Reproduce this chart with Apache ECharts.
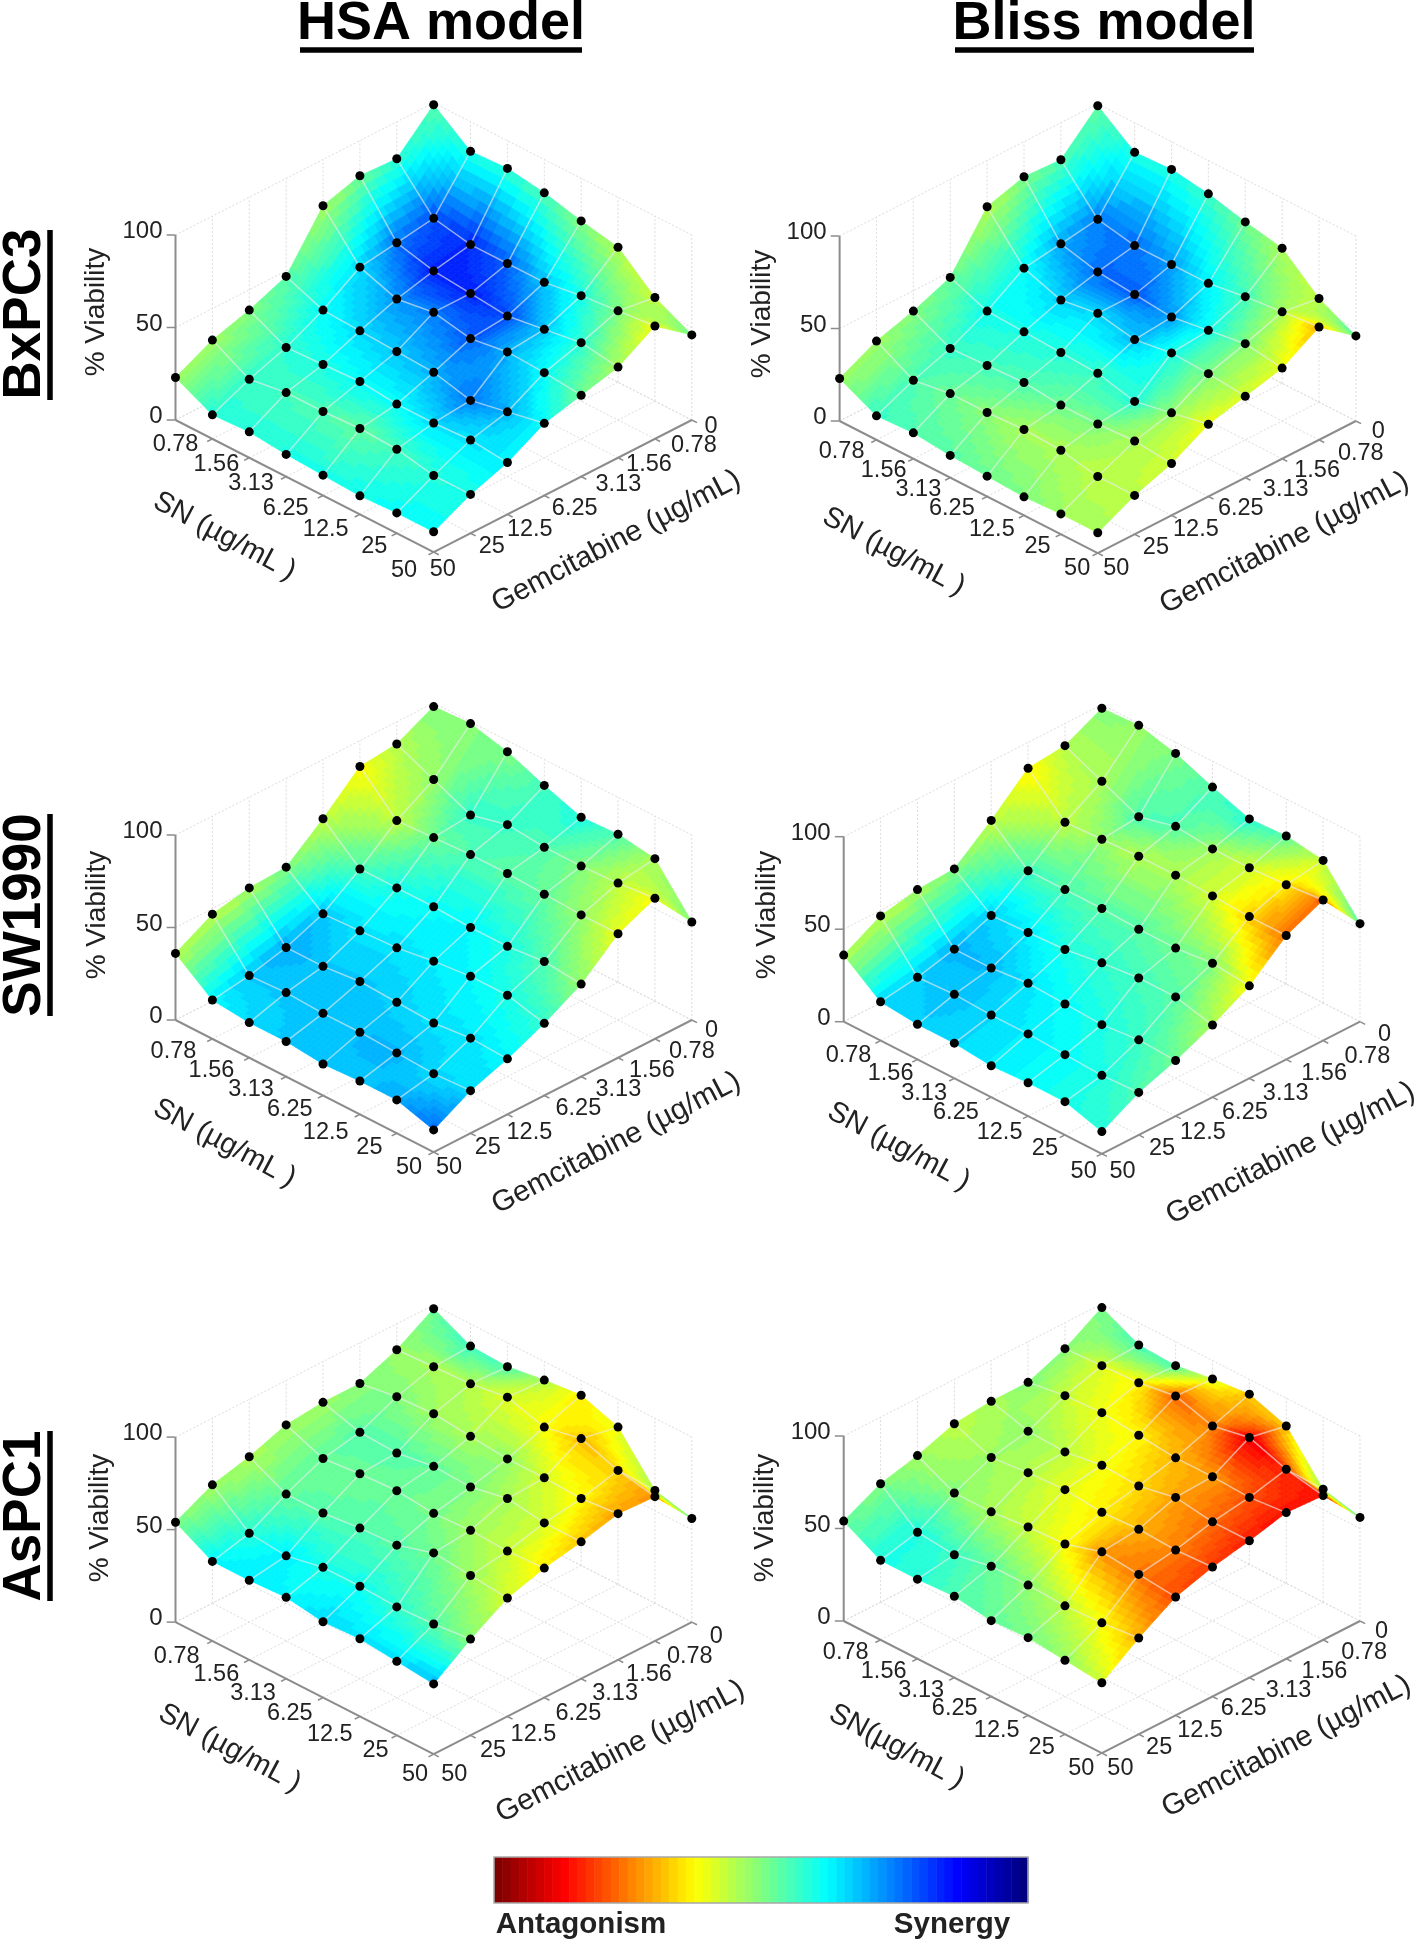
<!DOCTYPE html>
<html><head><meta charset="utf-8">
<style>html,body{margin:0;padding:0;background:#fff}#c{width:1418px;height:1944px}</style>
<script src="https://cdn.jsdelivr.net/npm/echarts@6/dist/echarts.min.js"></script>
</head><body><div id="c"></div>
<script>
// rows: Gemcitabine index 0..7 (0, 0.78 ... 50); columns: SN index 0..7 (0, 0.78 ... 50)
const viabilityBxPC3 = [
 [99,84,85,82,77,73,56,46],
 [80,58,54,54,54,57,59,61],
 [81,55,50,48,46,49,52,49],
 [75,52,45,48,44,47,46,44],
 [47,39,38,37,36,31,35,39],
 [39,29,30,31,29,29,30,28],
 [33,22,25,25,26,25,21,21],
 [23,13,14,12,11,10,11,11]];
const viabilitySW1990 = [
 [98,99,94,86,79,80,77,53],
 [88,79,70,75,73,73,74,76],
 [86,67,68,69,69,68,67,67],
 [68,51,51,51,50,50,52,50],
 [52,37,38,39,42,44,44,39],
 [51,29,29,31,30,29,31,30],
 [47,24,25,24,24,23,22,23],
 [36,21,19,19,17,18,18,12]];
const viabilityAsPC1 = [
 [98,88,87,90,92,85,61,56],
 [86,87,88,91,85,89,82,78],
 [78,81,82,80,78,78,77,79],
 [78,72,71,74,73,77,74,74],
 [76,68,70,71,69,70,69,70],
 [69,59,59,61,62,68,66,64],
 [64,48,46,50,50,49,50,52],
 [54,43,43,44,41,42,40,38]];
// colour position on the bar: 0 = strongest antagonism, 100 = strongest synergy
const synergyBxPC3HSA = [
 [55,60,58,55,50,45,43,52],
 [58,80,84,78,68,60,50,39],
 [52,76,85,85,80,68,58,46],
 [46,66,73,75,79,70,62,52],
 [54,62,66,68,70,76,70,62],
 [50,58,60,62,62,66,65,64],
 [47,57,56,55,53,56,59,60],
 [47,59,59,60,60,61,62,62]];
const synergyBxPC3Bliss = [
 [54,60,60,57,52,46,44,55],
 [55,75,77,72,63,56,46,30],
 [50,71,77,79,72,61,50,40],
 [45,62,67,66,69,60,50,42],
 [52,61,60,59,57,59,48,39],
 [50,57,56,55,52,50,46,42],
 [47,55,52,49,46,46,44,44],
 [47,57,55,54,52,50,47,46]];
const synergySW1990HSA = [
 [50,50,50,56,60,55,46,50],
 [45,48,58,57,55,50,44,38],
 [38,44,52,55,54,53,48,40],
 [44,56,60,62,63,60,55,48],
 [50,68,65,65,64,63,60,58],
 [46,71,68,68,67,65,65,63],
 [44,68,68,68,69,70,66,66],
 [45,63,66,68,69,68,71,77]];
const synergySW1990Bliss = [
 [50,48,50,55,59,54,42,55],
 [45,46,55,55,47,42,36,22],
 [37,44,48,45,46,42,33,24],
 [44,56,55,54,54,52,50,38],
 [50,67,64,60,58,56,54,46],
 [46,70,69,65,62,60,57,52],
 [44,67,69,66,64,62,60,55],
 [45,66,67,66,64,62,60,59]];
const synergyAsPC1HSA = [
 [52,57,55,46,36,40,46,52],
 [48,46,45,41,38,31,33,27],
 [50,50,47,46,48,42,37,28],
 [47,54,55,53,50,46,42,32],
 [47,53,52,52,51,47,43,36],
 [46,53,54,55,54,52,47,42],
 [47,59,64,60,61,58,54,49],
 [50,63,64,63,66,65,66,69]];
const synergyAsPC1Bliss = [
 [50,56,55,42,32,33,48,55],
 [49,41,37,22,26,10,16,14],
 [50,43,39,37,30,28,20,14],
 [46,48,44,39,34,28,23,15],
 [44,47,45,40,36,30,25,18],
 [47,49,46,43,38,27,24,20],
 [50,60,57,53,49,44,38,30],
 [52,60,59,55,53,51,48,42]];

const doseIndex = [0,1,2,3,4,5,6,7];
const snTickLabels = ['0.78','1.56','3.13','6.25','12.5','25','50'];
const gemTickLabels = ['0','0.78','1.56','3.13','6.25','12.5','25','50'];
const viabilityTicks = [0,50,100];
const columnTitles = ['HSA model','Bliss model'];
const rowTitles = ['BxPC3','SW1990','AsPC1'];

// ---- layout (pixels) ----
const PANELS = [
 {v:viabilityBxPC3, c:synergyBxPC3HSA,  lx:175.5, y0:419.9, ox:100, oy:80,  sn:'SN (µg/mL )',
  snT:[[185,1060],[285,1118],[370,1172],[455,1245],[553,1305],[672,1355],[745,1425]],
  gT:[[1497,1005],[1455,1062],[1345,1118],[1270,1175],[1163,1245],[1053,1305],[960,1355],[840,1423]],
  snC:[305,1325], gC:[1265,1340], vC:[96,312]},
 {v:viabilityBxPC3, c:synergyBxPC3Bliss, lx:839.6, y0:420.9, ox:760, oy:80, sn:'SN (µg/mL )',
  snT:[[200,1080],[303,1135],[388,1190],[470,1245],[568,1305],[680,1355],[777,1420]],
  gT:[[1515,1020],[1472,1085],[1365,1135],[1288,1190],[1178,1245],[1068,1305],[970,1357],[873,1420]],
  snC:[328,1370], gC:[1285,1345], vC:[762,314]},
 {v:viabilitySW1990, c:synergySW1990HSA, lx:175.5, y0:1019.9, ox:100, oy:680, sn:'SN (µg/mL )',
  snT:[[180,1078],[273,1133],[370,1190],[465,1247],[553,1315],[660,1358],[757,1417]],
  gT:[[1498,1018],[1450,1080],[1352,1135],[1270,1190],[1172,1245],[1052,1315],[950,1358],[855,1417]],
  snC:[305,1345], gC:[1265,1345], vC:[97,915]},
 {v:viabilitySW1990, c:synergySW1990Bliss, lx:843.7, y0:1021.6, ox:760, oy:680, sn:'SN (µg/mL )',
  snT:[[217,1090],[320,1143],[402,1200],[480,1257],[587,1315],[698,1362],[793,1428]],
  gT:[[1530,1030],[1488,1092],[1382,1143],[1288,1200],[1188,1257],[1085,1315],[985,1362],[888,1428]],
  snC:[340,1355], gC:[1300,1375], vC:[767,915]},
 {v:viabilityAsPC1, c:synergyAsPC1HSA, lx:175.5, y0:1622, ox:100, oy:1280, sn:'SN (µg/mL )',
  snT:[[188,1092],[285,1145],[375,1202],[465,1258],[563,1320],[675,1367],[772,1437]],
  gT:[[1510,1035],[1445,1092],[1345,1145],[1262,1202],[1172,1258],[1062,1320],[963,1367],[868,1437]],
  snC:[318,1360], gC:[1275,1370], vC:[100,1518]},
 {v:viabilityAsPC1, c:synergyAsPC1Bliss, lx:843.7, y0:1620.9, ox:760, oy:1280, sn:'SN(µg/mL )',
  snT:[[210,1083],[303,1137],[395,1193],[477,1245],[580,1307],[690,1358],[787,1420]],
  gT:[[1523,1022],[1480,1083],[1383,1137],[1295,1193],[1185,1245],[1078,1307],[978,1358],[883,1420]],
  snC:[335,1355], gC:[1290,1355], vC:[765,1518]}
];
const PX_X = 2.45, PX_Y = 2.904;
const W = 516.3, H = 449.2, TOP_OFF = 317;
const STEP = 10.2;     // viability units per floor step
const SUB = 8;
const FONT = '"Liberation Sans", Arial, sans-serif';

// oblique projection onto each panel's value axes
const projX = (s, g) => s - g;
const projY = (s, g, v) => v + (7 - s - g) * STEP;

function jet(c) {
  const lv = Math.min(63, Math.max(0, Math.round((1 - c / 100) * 63)));
  const t = lv / 63, f = x => Math.round(255 * Math.max(0, Math.min(1, 1.5 - Math.abs(4 * t - x))));
  return 'rgb(' + f(3) + ',' + f(2) + ',' + f(1) + ')';
}

const grids = [], xAxes = [], yAxes = [], series = [], graphics = [];

const text = (t, x, y, size, opt) => graphics.push(Object.assign({
  type:'text', silent:true, z:100, x, y,
  style:Object.assign({text:t, font:(opt&&opt.bold?'bold ':'')+size+'px '+FONT,
    fill:(opt&&opt.fill)||'#222', align:'center', verticalAlign:'middle'}, opt&&opt.style)
}, opt&&opt.rot!==undefined?{rotation:opt.rot}:{}));

PANELS.forEach((p, idx) => {
  grids.push({left:p.lx, top:p.y0 - TOP_OFF, width:W, height:H, containLabel:false});
  xAxes.push({type:'value', gridIndex:idx, min:-7, max:7, show:false});
  yAxes.push({type:'value', gridIndex:idx, min:-7*STEP, max:100+7*STEP, show:false});
  const axisRefs = {xAxisIndex:idx, yAxisIndex:idx};

  // box: wall and floor grid, axes, ticks
  const segs = [];
  doseIndex.forEach(i => {
    segs.push(['g', i,0,0, i,7,0]);            // floor
    segs.push(['g', 0,i,0, 7,i,0]);
    segs.push(['g', 0,i,0, 0,i,100]);          // walls
    segs.push(['g', i,0,0, i,0,100]);
    if (i > 0) { segs.push(['t', i,7,0, i,7.14,0]); segs.push(['t', 7.14,i-1,0, 7,i-1,0]); }
  });
  segs.push(['t', 7.14,7,0, 7,7,0]);
  viabilityTicks.forEach(v => {
    segs.push(['g', 0,0,v, 0,7,v]);
    segs.push(['g', 0,0,v, 7,0,v]);
    segs.push(['t', -0.12,7.12,v, 0,7,v]);
  });
  segs.push(['a', 0,7,0, 7,7,0]);
  segs.push(['a', 7,7,0, 7,0,0]);
  segs.push(['a', 0,7,0, 0,7,100]);
  series.push(Object.assign({type:'custom', ...axisRefs, coordinateSystem:'cartesian2d', silent:true,
    animation:false, clip:false, z:1, data:segs.map((_, i) => [i]),
    renderItem(params, api) {
      const sg = segs[api.value(0)];
      const a = api.coord([projX(sg[1],sg[2]), projY(sg[1],sg[2],sg[3])]);
      const b = api.coord([projX(sg[4],sg[5]), projY(sg[4],sg[5],sg[6])]);
      const st = sg[0]==='g' ? {stroke:'#dcdcdc', lineWidth:1, lineDash:[2,2]}
               : sg[0]==='t' ? {stroke:'#8c8c8c', lineWidth:1.5}
               : {stroke:'#8c8c8c', lineWidth:2};
      return {type:'line', shape:{x1:a[0],y1:a[1],x2:b[0],y2:b[1]}, style:st};
    }}));

  // surface: cells back to front, each subdivided for interpolated colour
  const cells = [];
  for (let n = 0; n <= 12; n++) for (let s = 0; s < 7; s++) { const g = n - s; if (g >= 0 && g < 7) cells.push([s, g]); }
  series.push({type:'custom', ...axisRefs, coordinateSystem:'cartesian2d', silent:true,
    animation:false, clip:false, z:2, progressive:0, data:cells,
    renderItem(params, api) {
      const s = api.value(0), g = api.value(1);
      const bil = (M, u, w) => (1-u)*(1-w)*M[g][s] + u*(1-w)*M[g][s+1] + (1-u)*w*M[g+1][s] + u*w*M[g+1][s+1];
      const pt = (u, w) => api.coord([projX(s+u,g+w), projY(s+u,g+w,bil(p.v,u,w))]);
      const children = [];
      for (let a = 0; a < SUB; a++) for (let b = 0; b < SUB; b++) {
        const u0=a/SUB,u1=(a+1)/SUB,w0=b/SUB,w1=(b+1)/SUB;
        const col = jet(bil(p.c,(u0+u1)/2,(w0+w1)/2));
        children.push({type:'polygon', shape:{points:[pt(u0,w0),pt(u1,w0),pt(u1,w1),pt(u0,w1)]},
          style:{fill:col, stroke:col, lineWidth:0.7}});
      }
      return {type:'group', children};
    }});

  // interior mesh wires
  const wires = [];
  for (let i = 1; i <= 6; i++) { wires.push(['s', i]); wires.push(['g', i]); }
  series.push({type:'custom', ...axisRefs, coordinateSystem:'cartesian2d', silent:true,
    animation:false, clip:false, z:3, data:wires.map((_, i) => [i]),
    renderItem(params, api) {
      const w = wires[api.value(0)];
      const pts = doseIndex.map(j => {
        const s = w[0]==='s' ? w[1] : j, g = w[0]==='s' ? j : w[1];
        return api.coord([projX(s,g), projY(s,g,p.v[g][s])]);
      });
      return {type:'polyline', shape:{points:pts}, style:{stroke:'rgba(235,235,235,0.62)', lineWidth:1.5, fill:null}};
    }});

  // measured points
  const pts = [];
  doseIndex.forEach(g => doseIndex.forEach(s => pts.push([projX(s,g), projY(s,g,p.v[g][s])])));
  series.push({type:'scatter', ...axisRefs, silent:true, animation:false, clip:false, z:4, symbol:'circle',
    symbolSize:9, itemStyle:{color:'#000', opacity:1}, data:pts});

  // texts
  const zx = z => p.ox + z / PX_X, zy = z => p.oy + z / PX_Y;
  snTickLabels.forEach((t, i) => text(t, zx(p.snT[i][0]), zy(p.snT[i][1]), 23.5));
  gemTickLabels.forEach((t, i) => text(t, zx(p.gT[i][0]), zy(p.gT[i][1]), 23.5));
  viabilityTicks.forEach(v => text(String(v), p.lx - 13, p.y0 - v*1.85 - 3.5, 24, {style:{align:'right'}}));
  text(p.sn, zx(p.snC[0]), zy(p.snC[1]), 29, {rot:-28*Math.PI/180});
  text('Gemcitabine (µg/mL)', zx(p.gC[0]), zy(p.gC[1]), 29.5, {rot:27.5*Math.PI/180});
  text('% Viability', p.vC[0], p.vC[1], 28, {rot:Math.PI/2});
});

// colour bar, drawn on its own axes
const barLevels = Array.from({length:64}, (_, i) => i);
grids.push({left:494, top:1857, width:534, height:46});
xAxes.push({type:'value', gridIndex:6, min:0, max:64, show:false});
yAxes.push({type:'value', gridIndex:6, min:0, max:1, show:false});
series.push({type:'custom', xAxisIndex:6, yAxisIndex:6, coordinateSystem:'cartesian2d', silent:true,
  animation:false, z:2, data:barLevels.map(l => [l]),
  renderItem(params, api) {
    const l = api.value(0), a = api.coord([l,1]), b = api.coord([l+1,0]);
    const col = jet(l / 63 * 100);
    return {type:'rect', shape:{x:a[0],y:a[1],width:b[0]-a[0]+0.5,height:b[1]-a[1]}, style:{fill:col}};
  }});
graphics.push({type:'rect', silent:true, z:90, shape:{x:494,y:1857,width:534,height:46},
  style:{fill:null, stroke:'#a8a8a8', lineWidth:1.5}});

// headers
text(columnTitles[0], 441, 24, 54, {bold:true, fill:'#000'});
text(columnTitles[1], 1104, 24, 54, {bold:true, fill:'#000'});
[[300,582],[955,1254]].forEach(r => graphics.push({type:'line', silent:true, z:100,
  shape:{x1:r[0],y1:50,x2:r[1],y2:50}, style:{stroke:'#000', lineWidth:5.5}}));
[[314,230,400],[915,814,1016],[1516,1431,1601]].forEach((r, i) => {
  text(rowTitles[i], 25, r[0], 53, {bold:true, fill:'#000', rot:Math.PI/2});
  graphics.push({type:'line', silent:true, z:100, shape:{x1:50,y1:r[1],x2:50,y2:r[2]}, style:{stroke:'#000', lineWidth:5.5}});
});
text('Antagonism', 581, 1925, 29.5, {bold:true, fill:'#222'});
text('Synergy', 952, 1925, 29.5, {bold:true, fill:'#222'});

const chart = echarts.init(document.getElementById('c'), null, {renderer:'canvas'});
chart.setOption({backgroundColor:'#fff', animation:false, grid:grids, xAxis:xAxes, yAxis:yAxes,
  series, graphic:{elements:graphics}});
</script></body></html>
